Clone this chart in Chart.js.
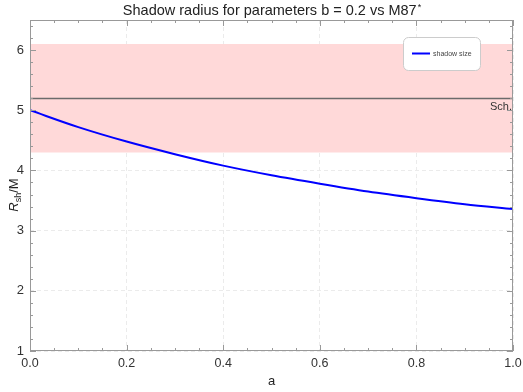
<!DOCTYPE html>
<html>
<head>
<meta charset="utf-8">
<script src="https://cdn.jsdelivr.net/npm/chart.js@4"></script>
<style>
  html, body { margin: 0; padding: 0; background: #fff; }
  #wrap { width: 523px; height: 392px; }
</style>
</head>
<body>
<div id="wrap"><canvas id="shadow"></canvas></div>
<script>
// spin parameter a and shadow radius
const spinA = [0, 0.1, 0.2, 0.3, 0.4, 0.5, 0.6, 0.7, 0.8, 0.9, 1.0];
const shadowR = [5.0, 4.72, 4.48, 4.27, 4.08, 3.92, 3.78, 3.65, 3.54, 3.44, 3.36];
// M87* observed band and Schwarzschild value
const bandX = [0, 1];
const bandLow = [4.3, 4.3];
const bandHigh = [6.1, 6.1];
const schR = [5.196, 5.196];
const xTicks = [0, 0.2, 0.4, 0.6, 0.8, 1.0];
const yTicks = [1, 2, 3, 4, 5, 6];

const FONT = "'Liberation Sans', Arial, sans-serif";
const pts = (ys) => bandX.map((x, i) => ({ x, y: ys[i] }));

// frame, inward ticks, titles, legend, Sch. label
const decor = {
  id: "decor",
  afterDatasetsDraw(chart) {
    const { ctx, chartArea: a, scales: { x, y } } = chart;
    ctx.save();
    ctx.strokeStyle = "#999";
    ctx.lineWidth = 1;
    ctx.strokeRect(a.left + 0.5, a.top + 0.5, a.right - a.left - 1, a.bottom - a.top - 1);

    ctx.beginPath();
    for (let i = 0; i <= 20; i++) {
      const v = i * 0.05, px = Math.round(x.getPixelForValue(v)) + 0.5;
      const len = i % 4 === 0 ? 6 : 3;
      ctx.moveTo(px, a.bottom); ctx.lineTo(px, a.bottom - len);
      ctx.moveTo(px, a.top); ctx.lineTo(px, a.top + len);
    }
    for (let i = 0; i <= 27; i++) {
      const v = 1 + i * 0.2, py = Math.round(y.getPixelForValue(v)) + 0.5;
      const len = i % 5 === 0 ? 6 : 3;
      ctx.moveTo(a.left, py); ctx.lineTo(a.left + len, py);
      ctx.moveTo(a.right, py); ctx.lineTo(a.right - len, py);
    }
    ctx.stroke();

    // Sch. label
    ctx.fillStyle = "#333";
    ctx.font = "11px " + FONT;
    ctx.textAlign = "right";
    ctx.textBaseline = "top";
    ctx.fillText("Sch.", a.right - 1, y.getPixelForValue(schR[0]) + 3);

    // legend
    const lx = 403, ly = 37, lw = 77, lh = 33;
    ctx.beginPath();
    ctx.roundRect(lx + 0.5, ly + 0.5, lw, lh, 5);
    ctx.fillStyle = "#fff";
    ctx.fill();
    ctx.strokeStyle = "#ccc";
    ctx.stroke();
    ctx.beginPath();
    ctx.strokeStyle = "#0000ff";
    ctx.lineWidth = 2;
    ctx.moveTo(412, 53.5); ctx.lineTo(430, 53.5);
    ctx.stroke();
    ctx.fillStyle = "#444";
    ctx.font = "7px " + FONT;
    ctx.textAlign = "left";
    ctx.textBaseline = "middle";
    ctx.fillText("shadow size", 433, 54);

    // title with superscript
    ctx.fillStyle = "#222";
    ctx.font = "14.5px " + FONT;
    ctx.textBaseline = "alphabetic";
    const t = "Shadow radius for parameters b = 0.2 vs M87";
    const tw = ctx.measureText(t).width;
    ctx.font = "9px " + FONT;
    const sw = ctx.measureText("*").width;
    const tx = (a.left + a.right) / 2 - (tw + sw) / 2;
    ctx.font = "14.5px " + FONT;
    ctx.textAlign = "left";
    ctx.fillText(t, tx, 15);
    ctx.font = "9px " + FONT;
    ctx.fillText("*", tx + tw + 1, 10);

    // x title
    ctx.font = "13px " + FONT;
    ctx.textAlign = "center";
    ctx.fillText("a", (a.left + a.right) / 2, 385);

    // y title R_sh/M
    ctx.translate(14, 195);
    ctx.rotate(-Math.PI / 2);
    ctx.textAlign = "left";
    ctx.font = "italic 13px " + FONT;
    const rW = ctx.measureText("R").width;
    ctx.font = "9px " + FONT;
    const shW = ctx.measureText("sh").width;
    ctx.font = "13px " + FONT;
    const mW = ctx.measureText("/M").width;
    let cx = -(rW + shW + mW) / 2;
    ctx.font = "italic 13px " + FONT;
    ctx.fillText("R", cx, 4); cx += rW;
    ctx.font = "9px " + FONT;
    ctx.fillText("sh", cx, 7); cx += shW;
    ctx.font = "13px " + FONT;
    ctx.fillText("/M", cx, 4);
    ctx.restore();
  }
};

new Chart(document.getElementById("shadow"), {
  type: "line",
  data: {
    datasets: [
      { label: "band top", data: pts(bandHigh), borderWidth: 0, pointRadius: 0,
        backgroundColor: "#ffd9d9", fill: "+1", order: 3 },
      { label: "band bottom", data: pts(bandLow), borderWidth: 0, pointRadius: 0, fill: false, order: 3 },
      { label: "Sch.", data: pts(schR), borderColor: "#6b6b6b", borderWidth: 1.4, pointRadius: 0, fill: false, order: 2 },
      { label: "shadow size", data: spinA.map((x, i) => ({ x, y: shadowR[i] })),
        borderColor: "#0000ff", borderWidth: 2, pointRadius: 0, cubicInterpolationMode: "monotone",
        fill: false, order: 1 },
    ],
  },
  options: {
    responsive: true,
    maintainAspectRatio: false,
    animation: false,
    layout: { padding: { top: 20, right: 10, left: 0, bottom: 0 } },
    plugins: { legend: { display: false }, tooltip: { enabled: false } },
    scales: {
      x: {
        type: "linear", min: 0, max: 1,
        afterBuildTicks: (s) => { s.ticks = xTicks.map((v) => ({ value: v })); },
        afterFit: (s) => { s.height = 41; s.paddingRight = 0; s.paddingLeft = 0; },
        ticks: { color: "#333", font: { family: FONT, size: 12.5 }, padding: 5, maxRotation: 0,
          callback: (v) => v.toFixed(1) },
        grid: { color: "#ebebeb", drawTicks: false },
        border: { display: false, dash: [4, 3] },
      },
      y: {
        min: 1, max: 6.5,
        afterBuildTicks: (s) => { s.ticks = yTicks.map((v) => ({ value: v })); },
        afterFit: (s) => { s.width = 30; },
        ticks: { color: "#333", font: { family: FONT, size: 13 }, padding: 6 },
        grid: { color: "#ebebeb", drawTicks: false },
        border: { display: false, dash: [4, 3] },
      },
    },
  },
  plugins: [decor],
});
</script>
</body>
</html>
